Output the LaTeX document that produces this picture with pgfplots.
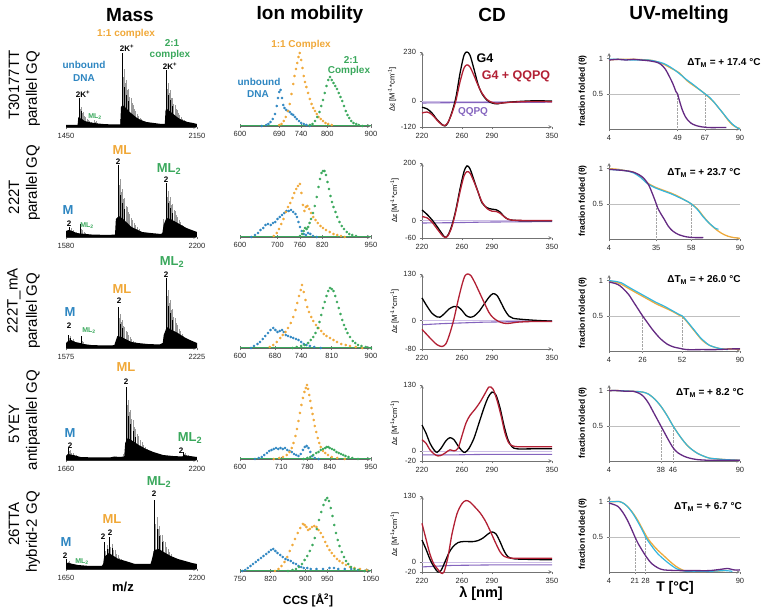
\documentclass[border=0pt]{standalone}
\usepackage{fontspec}
\setmainfont{Liberation Sans}
\usepackage{pgfplots}
\pgfplotsset{compat=1.18}

\definecolor{cblue}{RGB}{46,134,193}
\definecolor{corange}{RGB}{240,168,56}
\definecolor{cgreen}{RGB}{58,168,92}
\definecolor{cdred}{RGB}{178,32,52}
\definecolor{cdpurple}{RGB}{132,100,190}
\definecolor{cdzero}{RGB}{205,190,230}
\definecolor{uvpurple}{RGB}{100,42,130}
\definecolor{uvcyan}{RGB}{52,182,222}
\definecolor{uvorange}{RGB}{238,170,60}

\newcommand{\fs}[1]{\fontsize{#1}{#1}\selectfont}

\pgfplotsset{
  every axis/.append style={
    scale only axis,
    /pgf/number format/assume math mode=true,
    /pgf/number format/1000 sep={},
    tick label style={font=\fs{7.5}, text=black!85},
    axis line style={-, black!55, line width=0.6pt},
    tick style={black!55, line width=0.5pt},
    major tick length=2.5pt,
    clip=false,
  },
  mass/.style={width=131pt, height=80pt, ymin=0, ymax=80,
    axis x line=bottom, axis y line=none, xtick align=outside,
    x axis line style={black!80}},
  stick/.style={ycomb, black!40, line width=0.3pt, mark=none},
  stickk/.style={ycomb, black, line width=0.35pt, mark=none},
  env/.style={fill=black, draw=none, mark=none},
  im/.style={width=131pt, height=80pt, ymin=0, ymax=80,
    axis x line=bottom, axis y line=none, xtick align=center,
    major tick length=4pt, x axis line style={black!60, line width=0.8pt}},
  imb/.style={only marks, mark=*, mark size=1.1pt, color=cblue},
  imo/.style={only marks, mark=*, mark size=1.1pt, color=corange},
  img/.style={only marks, mark=*, mark size=1.1pt, color=cgreen},
  cd/.style={width=130pt, height=75pt, xmin=220, xmax=350,
    axis lines=left, xtick={220,260,290,350}, tick align=outside,
    ylabel={\fs{7.5}Δε [M\textsuperscript{-1}*cm\textsuperscript{-1}]},
    ylabel style={yshift=-2pt}},
  cdk/.style={black, line width=1.3pt, smooth, mark=none},
  cdr/.style={cdred, line width=1.3pt, smooth, mark=none},
  cdp/.style={cdpurple, line width=1.1pt, mark=none},
  uv/.style={width=131pt, height=76pt, xmin=4, xmax=90, ymin=0, ymax=1.08,
    axis lines=left, ytick={0.5,1}, tick align=outside,
    ylabel={\bfseries\fs{8.5}fraction folded (θ)},
    ylabel style={yshift=-1pt}},
  uvp/.style={uvpurple, line width=1.3pt, smooth, mark=none},
  uvo/.style={uvorange, line width=1.3pt, smooth, mark=none},
  uvc/.style={uvcyan, line width=1.2pt, smooth, mark=none},
}

\begin{document}
\begin{tikzpicture}[x=1pt, y=-1pt]
\useasboundingbox (0,0) rectangle (764,609);

% column titles
\node[font=\bfseries\fs{19}] at (130,15) {Mass};
\node[font=\bfseries\fs{19}] at (310,15) {Ion mobility};
\node[font=\bfseries\fs{19}] at (492,15) {CD};
\node[font=\bfseries\fs{19}] at (679,15) {UV-melting};

% row names
\begin{scope}[every node/.style={rotate=90, font=\fs{15}}]
\node at (14,85) {T30177TT};
\node at (33,89) {parallel GQ};
\node at (14,197) {222T};
\node at (33,183) {parallel GQ};
\node at (14,301) {222T\_mA};
\node at (33,311) {parallel GQ};
\node at (14,424) {5YEY};
\node at (33,420) {antiparallel GQ};
\node at (14,524) {26TTA};
\node at (33,532) {hybrid-2 GQ};
\end{scope}

%================ MASS ================
\begin{axis}[mass, at={(66pt,-127pt)}, anchor=south west, xmin=1450, xmax=2150, xtick={1450,2150}]
\addplot[stick] coordinates {(1519,29)(1525,18)(1531,20)(1537,14)(1543,15)(1549,11)(1555,10)(1562,8)(1569,7)(1576,6)(1584,5)(1592,4)
 (1600,7)(1606,5)(1612,6)(1618,4)(1625,3)
 (1740,8)(1749,74)(1754,50)(1760,58)(1766,44)(1772,47)(1778,37)(1784,38)(1790,30)(1796,29)(1802,24)(1808,22)(1815,18)(1822,16)(1829,13)(1836,11)(1844,9)(1852,8)(1860,6)(1870,5)(1880,4)(1892,3)
 (1984,57)(1989,38)(1995,44)(2001,34)(2007,37)(2013,29)(2019,29)(2025,23)(2031,22)(2037,18)(2043,17)(2050,14)(2057,12)(2064,10)(2071,8)(2079,7)(2087,5)(2096,4)(2106,3)(2118,3)};
\addplot[env] coordinates {(1450,0)(1450,2)(1512,2)(1516,10)(1522,9)(1535,8)(1550,6)(1570,5)(1600,4)(1620,3.5)(1650,3)(1700,2.5)(1740,2.5)(1744,20)(1752,22)(1770,19)(1790,15)(1810,12)(1830,9)(1850,7)(1880,5)(1920,4)(1960,3)(1978,3)(1982,17)(1990,18)(2010,15)(2030,12)(2050,9)(2070,7)(2100,5)(2130,4)(2150,3)(2150,0)};
\addplot[stickk] coordinates {(1519,29)(1531,16)(1749,74)(1760,40)(1772,32)(1784,26)(1984,57)(1995,32)(2007,27)(2019,21)};
\end{axis}

\begin{axis}[mass, at={(66pt,-237pt)}, anchor=south west, xmin=1580, xmax=2200, xtick={1580,2200}]
\addplot[stick] coordinates {(1594,10)(1599,7)(1604,9)(1609,6)(1614,7)(1620,5)(1626,5)(1632,4)(1640,3)
 (1648,13)(1653,8)(1658,7)(1664,5)(1670,4)
 (1815,10)(1826,72)(1831,52)(1836,58)(1841,45)(1846,48)(1852,38)(1857,39)(1863,31)(1869,30)(1875,25)(1881,23)(1887,19)(1894,17)(1901,14)(1908,12)(1916,10)(1924,8)(1932,6)(1942,5)(1952,4)(1965,3)
 (2040,18)(2053,54)(2058,40)(2063,46)(2068,36)(2073,40)(2079,32)(2084,33)(2090,27)(2096,26)(2102,22)(2108,20)(2115,17)(2122,15)(2129,12)(2136,11)(2144,9)(2152,8)(2160,6)(2170,5)(2180,4)(2192,3)};
\addplot[env] coordinates {(1580,0)(1580,6)(1592,7)(1610,6)(1630,4)(1650,3.5)(1700,2.5)(1780,2)(1812,2.5)(1816,18)(1830,21)(1850,18)(1870,14)(1890,10)(1910,8)(1940,5)(1980,4)(2030,3)(2036,4)(2042,12)(2055,19)(2075,18)(2100,15)(2125,12)(2150,9)(2175,7)(2200,5)(2200,0)};
\addplot[stickk] coordinates {(1594,10)(1648,13)(1826,72)(1836,42)(1846,34)(1857,28)(2053,54)(2063,34)(2073,29)(2084,24)};
\end{axis}

\begin{axis}[mass, at={(66pt,-348pt)}, anchor=south west, xmin=1575, xmax=2225, xtick={1575,2225}]
\addplot[stick] coordinates {(1588,13)(1593,10)(1598,12)(1603,8)(1608,9)(1614,7)(1620,6)(1627,5)(1635,4)(1643,3)
 (1652,12)(1657,7)(1662,6)(1668,4)
 (1820,6)(1833,41)(1838,30)(1843,34)(1849,26)(1854,28)(1860,22)(1866,21)(1872,17)(1878,16)(1885,13)(1892,11)(1900,9)(1908,7)(1917,6)(1927,4)(1938,3)
 (2060,12)(2071,70)(2076,52)(2081,58)(2086,45)(2091,48)(2097,38)(2103,39)(2109,31)(2115,30)(2121,25)(2128,23)(2135,19)(2142,17)(2150,14)(2158,12)(2166,10)(2175,8)(2184,6)(2195,5)(2207,4)(2220,3)};
\addplot[env] coordinates {(1575,0)(1575,5)(1586,7)(1600,8)(1620,6)(1645,5)(1660,4)(1700,3)(1760,2.5)(1800,2.5)(1815,3)(1820,6)(1830,12)(1850,11)(1870,9)(1900,6)(1930,5)(1980,4)(2040,3.5)(2055,5)(2060,13)(2075,21)(2100,18)(2130,15)(2160,11)(2190,8)(2225,5)(2225,0)};
\addplot[stickk] coordinates {(1588,13)(1598,10)(1652,12)(1833,41)(1843,24)(1854,20)(2071,70)(2081,42)(2091,35)(2103,28)};
\end{axis}

\begin{axis}[mass, at={(66pt,-460pt)}, anchor=south west, xmin=1660, xmax=2200, xtick={1660,2200}]
\addplot[stick] coordinates {(1668,12)(1673,9)(1678,10)(1683,7)(1689,7)(1695,5)(1701,5)(1708,4)(1716,3)
 (1895,6)(1907,73)(1911,55)(1915,60)(1920,48)(1925,50)(1930,41)(1935,40)(1941,33)(1947,31)(1953,26)(1959,24)(1966,20)(1973,18)(1980,15)(1988,13)(1996,11)(2005,9)(2015,7)(2026,6)(2038,5)(2052,4)(2068,3)
 (2142,8)(2147,6)(2152,7)(2157,5)(2163,5)(2170,4)(2178,3)};
\addplot[env] coordinates {(1660,0)(1660,4)(1668,6)(1690,5)(1720,3)(1780,2.5)(1840,2.5)(1860,3.5)(1880,3)(1900,3.5)(1904,17)(1915,22)(1935,19)(1960,15)(1990,11)(2020,8)(2060,5)(2100,4)(2140,3.5)(2145,5)(2170,4)(2200,3)(2200,0)};
\addplot[stickk] coordinates {(1668,12)(1907,73)(1915,44)(1925,36)(1935,29)(1947,23)(2142,8)};
\end{axis}

\begin{axis}[mass, at={(66pt,-569pt)}, anchor=south west, xmin=1650, xmax=2200, xtick={1650,2200}]
\addplot[stick] coordinates {(1652,10)(1657,7)(1662,8)(1667,6)(1673,5)(1679,4)(1686,4)(1694,3)
 (1700,4)(1706,3)
 (1810,27)(1815,18)(1821,24)(1826,20)(1832,32)(1837,22)(1843,25)(1849,19)(1855,19)(1861,15)(1868,14)(1875,11)(1882,10)(1890,8)(1898,7)(1907,5)(1917,4)(1928,3)
 (2014,18)(2021,69)(2026,45)(2031,52)(2036,40)(2041,43)(2047,34)(2053,34)(2059,28)(2065,27)(2071,22)(2078,20)(2085,17)(2092,15)(2100,12)(2108,11)(2117,9)(2126,8)(2136,6)(2147,5)(2160,4)(2175,3)(2190,3)};
\addplot[env] coordinates {(1650,0)(1650,6)(1660,6)(1680,5)(1700,4)(1750,3)(1800,3)(1806,5)(1810,12)(1830,16)(1850,13)(1870,10)(1900,8)(1940,5)(1980,5)(2005,5)(2010,9)(2020,19)(2040,20)(2060,17)(2090,13)(2120,10)(2150,8)(2180,6)(2200,5)(2200,0)};
\addplot[stickk] coordinates {(1652,10)(1810,27)(1821,20)(1832,32)(1843,21)(2021,69)(2031,40)(2041,33)(2053,27)};
\end{axis}

% mass annotations
\begin{scope}[every node/.style={font=\bfseries\fs{10}, inner sep=0pt}]
\node[cblue] at (84,65) {unbound};
\node[cblue] at (84,78) {DNA};
\node[black, font=\bfseries\fs{8}] at (83,94) {2K\textsuperscript{+}};
\node[cgreen, font=\bfseries\fs{7}] at (95,117) {ML\textsubscript{2}};
\node[corange] at (126,34) {1:1 complex};
\node[black, font=\bfseries\fs{8}] at (127,48) {2K\textsuperscript{+}};
\node[cgreen] at (172,43) {2:1};
\node[cgreen] at (170,55) {complex};
\node[black, font=\bfseries\fs{8}] at (170,66) {2K\textsuperscript{+}};
% 222T
\node[cblue, font=\bfseries\fs{13}] at (68,210) {M};
\node[font=\bfseries\fs{8}] at (69,224) {2};
\node[cgreen, font=\bfseries\fs{7}] at (87,226) {ML\textsubscript{2}};
\node[corange, font=\bfseries\fs{13}] at (122,150) {ML};
\node[font=\bfseries\fs{8}] at (118,162) {2};
\node[cgreen, font=\bfseries\fs{13}] at (169,169) {ML\textsubscript{2}};
\node[font=\bfseries\fs{8}] at (166,180) {2};
% 222T_mA
\node[cblue, font=\bfseries\fs{13}] at (70,312) {M};
\node[font=\bfseries\fs{8}] at (69,326) {2};
\node[cgreen, font=\bfseries\fs{7}] at (89,331) {ML\textsubscript{2}};
\node[corange, font=\bfseries\fs{13}] at (122,289) {ML};
\node[font=\bfseries\fs{8}] at (119,301) {2};
\node[cgreen, font=\bfseries\fs{13}] at (172,262) {ML\textsubscript{2}};
\node[font=\bfseries\fs{8}] at (166,275) {2};
% 5YEY
\node[corange, font=\bfseries\fs{13}] at (126,367) {ML};
\node[font=\bfseries\fs{8}] at (126,382) {2};
\node[cblue, font=\bfseries\fs{13}] at (70,433) {M};
\node[font=\bfseries\fs{8}] at (70,446) {2};
\node[cgreen, font=\bfseries\fs{13}] at (190,438) {ML\textsubscript{2}};
\node[font=\bfseries\fs{8}] at (181,451) {2};
% 26TTA
\node[cgreen, font=\bfseries\fs{13}] at (159,482) {ML\textsubscript{2}};
\node[font=\bfseries\fs{8}] at (154,494) {2};
\node[corange, font=\bfseries\fs{13}] at (112,519) {ML};
\node[font=\bfseries\fs{8}] at (103,537) {2};
\node[font=\bfseries\fs{8}] at (110,533) {2};
\node[cblue, font=\bfseries\fs{13}] at (66,542) {M};
\node[font=\bfseries\fs{8}] at (65,556) {2};
\node[cgreen, font=\bfseries\fs{7}] at (82,562) {ML\textsubscript{2}};
\end{scope}
\node[font=\bfseries\fs{13}] at (123,587) {m/z};

%================ ION MOBILITY ================
\begin{axis}[im, at={(240pt,-126pt)}, anchor=south west, xmin=600, xmax=900, xtick={600,690,740,800,900}]
\addplot[imb] coordinates {(650,0)(660,1)(665,2)(670,4)(675,7)(680,12)(684,20)(687,28)(690,34)(693,36)(696,28)(699,21)(702,18)(706,16)(710,15)(714,14)(718,12)(722,11)(726,9)(730,7)(735,5)(740,3)(746,2)(752,1)(760,0)};
\addplot[imo] coordinates {(690,1)(695,2)(700,5)(705,9)(710,15)(714,22)(718,32)(722,42)(725,50)(728,57)(731,63)(734,69)(737,73)(740,66)(743,58)(746,50)(749,44)(752,39)(756,33)(760,27)(764,22)(768,18)(772,15)(776,12)(780,9)(785,7)(790,5)(796,3)(802,2)(810,1)};
\addplot[img] coordinates {(760,1)(766,2)(772,5)(777,9)(782,14)(786,20)(790,26)(794,33)(798,40)(802,46)(806,49)(810,46)(814,43)(818,40)(822,37)(826,33)(830,29)(834,25)(838,20)(842,15)(846,11)(850,8)(855,5)(860,3)(866,2)(872,1)(880,0)};
\addplot[cgreen, line width=1pt, mark=none] coordinates {(600,0)(900,0)};
\end{axis}

\begin{axis}[im, at={(240pt,-237pt)}, anchor=south west, xmin=600, xmax=950, xtick={600,700,760,820,950}]
\addplot[imb] coordinates {(630,0)(640,2)(648,4)(655,7)(662,9)(668,12)(675,13)(682,12)(688,14)(694,15)(700,18)(706,20)(712,22)(718,24)(724,26)(730,26)(736,27)(742,25)(748,23)(752,20)(756,15)(760,10)(765,6)(770,3)(776,2)(782,4)(788,3)(795,1)(805,0)};
\addplot[imo] coordinates {(690,1)(698,4)(704,8)(710,13)(716,18)(722,25)(728,30)(734,34)(740,39)(745,44)(750,48)(755,51)(760,53)(764,44)(768,32)(772,26)(776,30)(780,31)(785,28)(790,24)(796,20)(802,17)(808,14)(815,11)(822,9)(830,7)(840,5)(850,3)(860,2)(870,1)(880,0)};
\addplot[img] coordinates {(760,1)(766,3)(770,6)(774,9)(778,8)(782,10)(786,14)(790,18)(795,24)(800,31)(805,40)(810,50)(814,58)(818,64)(822,66)(826,66)(830,62)(834,55)(838,48)(842,41)(846,35)(850,30)(855,25)(860,20)(866,15)(872,11)(878,8)(885,5)(892,3)(900,2)(910,1)};
\addplot[cgreen, line width=1pt, mark=none] coordinates {(600,0)(950,0)};
\end{axis}

\begin{axis}[im, at={(240pt,-348pt)}, anchor=south west, xmin=600, xmax=900, xtick={600,680,740,810,900}]
\addplot[imb] coordinates {(625,0)(632,2)(640,4)(646,6)(652,9)(658,12)(664,15)(670,18)(676,20)(681,18)(686,16)(691,17)(696,18)(700,16)(705,13)(710,12)(716,11)(722,10)(728,9)(734,8)(740,6)(746,4)(752,3)(760,2)(770,1)(785,0)};
\addplot[imo] coordinates {(668,1)(676,3)(684,6)(692,10)(698,13)(704,16)(710,20)(716,25)(722,31)(727,38)(731,45)(735,52)(739,58)(742,63)(746,56)(750,48)(754,41)(758,36)(763,31)(768,27)(774,23)(780,20)(786,17)(792,14)(798,12)(806,10)(814,8)(822,6)(832,4)(842,3)(852,2)(865,1)(880,0)};
\addplot[img] coordinates {(720,0)(730,1)(740,2)(748,3)(756,5)(762,8)(768,11)(773,15)(778,20)(782,26)(786,33)(790,40)(794,46)(798,52)(802,57)(806,60)(810,59)(814,57)(818,52)(822,46)(826,40)(830,34)(834,28)(838,23)(842,19)(846,15)(852,11)(858,7)(864,5)(870,3)(878,2)(888,1)(900,0)};
\addplot[cgreen, line width=1pt, mark=none] coordinates {(600,0)(900,0)};
\end{axis}

\begin{axis}[im, at={(240pt,-459pt)}, anchor=south west, xmin=600, xmax=950, xtick={600,710,780,840,950}]
\addplot[imb] coordinates {(640,0)(650,1)(658,2)(665,4)(672,6)(678,8)(684,9)(690,10)(696,11)(702,10)(708,11)(714,10)(720,11)(726,9)(732,8)(738,7)(744,5)(750,4)(756,3)(762,5)(768,9)(773,12)(778,13)(783,11)(788,7)(793,3)(800,1)(810,0)};
\addplot[imo] coordinates {(690,0)(705,1)(715,2)(725,4)(732,7)(738,11)(743,16)(748,23)(752,30)(756,38)(760,46)(764,54)(768,61)(772,67)(776,71)(779,74)(782,70)(785,64)(788,58)(791,51)(794,45)(797,39)(800,33)(804,27)(808,21)(812,16)(816,12)(822,8)(828,6)(835,4)(845,2)(860,1)(880,0)};
\addplot[img] coordinates {(770,0)(780,1)(788,2)(796,4)(804,6)(810,7)(816,9)(822,10)(828,11)(832,12)(836,12)(840,11)(846,10)(852,9)(858,7)(864,6)(870,5)(876,4)(882,3)(890,2)(900,1)(915,0)};
\addplot[cgreen, line width=1pt, mark=none] coordinates {(600,0)(950,0)};
\end{axis}

\begin{axis}[im, at={(240pt,-571pt)}, anchor=south west, xmin=750, xmax=1050, xtick={750,820,900,950,1050}]
\addplot[imb] coordinates {(755,0)(762,1)(768,3)(774,5)(780,7)(786,9)(792,11)(798,13)(804,15)(810,17)(816,19)(821,21)(826,22)(831,20)(836,18)(842,16)(848,14)(854,12)(860,11)(866,10)(872,8)(878,7)(884,5)(890,4)(896,3)(904,3)(912,2)(925,2)(940,2)(955,3)(965,3)(975,2)(990,2)(1005,2)(1020,1)(1040,1)};
\addplot[imo] coordinates {(830,0)(838,2)(845,5)(852,9)(858,14)(864,20)(870,26)(876,32)(882,38)(888,43)(894,47)(898,46)(902,44)(906,41)(910,42)(915,44)(920,45)(925,44)(930,41)(935,38)(940,34)(945,29)(950,25)(955,21)(960,18)(966,15)(972,12)(978,10)(985,8)(993,6)(1002,4)(1012,3)(1025,2)(1040,1)};
\addplot[img] coordinates {(860,0)(870,1)(878,2)(885,4)(892,7)(898,11)(904,15)(910,20)(916,26)(921,33)(926,42)(931,51)(936,59)(941,66)(946,71)(950,73)(954,70)(958,63)(962,55)(966,46)(970,38)(974,31)(978,25)(983,19)(988,14)(993,10)(998,7)(1004,4)(1012,2)(1022,1)(1035,0)};
\addplot[cgreen, line width=1pt, mark=none] coordinates {(750,0)(1050,0)};
\end{axis}

\begin{scope}[every node/.style={font=\bfseries\fs{10}, inner sep=0pt}]
\node[corange] at (301,45) {1:1 Complex};
\node[cgreen] at (351,60) {2:1};
\node[cgreen] at (349,71) {Complex};
\node[cblue] at (259,82) {unbound};
\node[cblue] at (258,94) {DNA};
\end{scope}
\node[font=\bfseries\fs{12}] at (308,600) {CCS [Å\textsuperscript{2}]};

%================ CD ================
\begin{axis}[cd, at={(422pt,-127pt)}, anchor=south west, ymin=-120, ymax=230, ytick={-120,0,230}]
\addplot[cdzero, line width=0.6pt, mark=none] coordinates {(220,0)(350,0)};
\addplot[cdp] coordinates {(220,-8)(240,-7)(260,-6)(280,-6)(300,-5)(325,-5)(350,-4)};
\addplot[cdk] coordinates {(220,-28)(225,-35)(230,-55)(235,-85)(240,-108)(243,-115)(246,-100)(250,-50)(254,20)(258,130)(262,215)(265,230)(268,215)(272,150)(276,80)(280,35)(285,5)(290,-8)(295,-12)(300,-8)(310,-3)(320,0)(330,2)(340,2)(350,1)};
\addplot[cdr] coordinates {(220,-55)(225,-50)(230,-62)(235,-88)(240,-110)(243,-113)(246,-98)(250,-55)(254,5)(258,90)(262,155)(265,170)(268,160)(272,120)(276,75)(280,38)(285,8)(290,-5)(295,-10)(300,-8)(310,-4)(320,-2)(330,-1)(340,-1)(350,-2)};
\end{axis}
\node[font=\bfseries\fs{12.5}] at (485,58) {G4};
\node[font=\bfseries\fs{12.5}, cdred] at (516,76) {G4 + QQPQ};
\node[font=\bfseries\fs{10}, cdpurple] at (473,112) {QQPQ};

\begin{axis}[cd, at={(422pt,-238pt)}, anchor=south west, ymin=-60, ymax=200, ytick={-60,0,200}]
\addplot[cdzero, line width=0.6pt, mark=none] coordinates {(220,0)(350,0)};
\addplot[cdp] coordinates {(220,-8)(250,-7)(280,-5)(310,-4)(350,-3)};
\addplot[cdk] coordinates {(220,37)(225,22)(230,3)(235,-20)(240,-45)(243,-57)(246,-50)(250,-15)(254,40)(258,110)(262,170)(265,190)(268,180)(272,140)(276,100)(280,62)(285,45)(290,40)(294,38)(298,30)(302,15)(306,5)(310,2)(320,0)(335,0)(350,0)};
\addplot[cdr] coordinates {(220,14)(225,10)(230,-5)(235,-28)(240,-50)(243,-58)(246,-52)(250,-20)(254,35)(258,100)(262,155)(265,170)(268,165)(272,135)(276,100)(280,65)(285,42)(290,33)(294,32)(298,26)(302,14)(306,5)(310,2)(320,1)(335,1)(350,1)};
\end{axis}

\begin{axis}[cd, at={(422pt,-349pt)}, anchor=south west, ymin=-80, ymax=130, ytick={-80,0,130}]
\addplot[cdzero, line width=0.6pt, mark=none] coordinates {(220,0)(350,0)};
\addplot[cdp] coordinates {(220,-12)(240,-9)(260,-7)(280,-5)(300,-4)(325,-3)(350,-2)};
\addplot[cdk] coordinates {(220,63)(225,40)(230,20)(235,10)(238,9)(242,18)(247,32)(252,39)(256,38)(260,28)(264,14)(268,9)(272,12)(277,25)(282,45)(287,65)(291,75)(295,70)(299,50)(303,28)(307,12)(311,6)(320,3)(335,0)(350,-2)};
\addplot[cdr] coordinates {(220,-25)(225,-40)(230,-55)(235,-68)(240,-73)(244,-65)(248,-35)(252,5)(256,55)(260,100)(263,125)(266,130)(269,125)(273,105)(278,75)(283,45)(287,22)(291,8)(296,-2)(302,-8)(308,-8)(315,-5)(330,-3)(350,-3)};
\end{axis}

\begin{axis}[cd, at={(422pt,-461pt)}, anchor=south west, height=76pt, ymin=-20, ymax=130, ytick={-20,0,130}]
\addplot[cdzero, line width=0.6pt, mark=none] coordinates {(220,0)(350,0)};
\addplot[cdp] coordinates {(220,-8)(250,-8)(280,-7)(310,-7)(350,-7)};
\addplot[cdk] coordinates {(220,51)(224,35)(228,15)(232,2)(235,-3)(239,5)(244,20)(248,26)(252,22)(256,10)(260,0)(263,-3)(267,5)(272,25)(277,55)(282,85)(286,105)(290,116)(294,110)(298,85)(302,50)(306,22)(310,8)(315,4)(330,4)(350,4)};
\addplot[cdr] coordinates {(220,22)(224,15)(228,2)(232,-6)(236,-10)(240,-8)(244,-3)(248,2)(252,0)(256,5)(260,30)(264,55)(268,70)(273,82)(278,96)(283,113)(287,126)(291,122)(295,100)(299,70)(303,35)(307,15)(312,9)(320,8)(335,8)(350,8)};
\end{axis}

\begin{axis}[cd, at={(422pt,-572pt)}, anchor=south west, height=76pt, ymin=-20, ymax=130, ytick={-20,0,130}]
\addplot[cdzero, line width=0.6pt, mark=none] coordinates {(220,0)(350,0)};
\addplot[cdp] coordinates {(220,-10)(250,-7)(290,-6)(320,-6)(350,-6)};
\addplot[cdk] coordinates {(220,43)(224,25)(228,5)(232,-10)(236,-20)(239,-17)(243,0)(247,18)(251,30)(256,38)(261,40)(266,40)(271,40)(276,42)(281,47)(286,55)(290,59)(294,55)(298,40)(302,22)(306,10)(312,6)(325,5)(350,4)};
\addplot[cdr] coordinates {(220,76)(224,45)(228,15)(232,-5)(236,-15)(239,-22)(242,-20)(246,10)(250,55)(255,95)(260,115)(264,121)(268,118)(273,108)(278,97)(283,82)(288,62)(293,40)(298,20)(302,11)(306,8)(315,7)(330,7)(350,7)};
\end{axis}
\node[font=\bfseries\fs{14.5}] at (481,594) {λ [nm]};

%================ UV MELTING ================
\begin{axis}[uv, at={(609pt,-129pt)}, anchor=south west, xtick={4,49,67,90}]
\addplot[black!25, line width=0.5pt, mark=none] coordinates {(4,0.5)(90,0.5)};
\addplot[black!35, densely dotted, mark=none] coordinates {(49,0)(49,0.5)};
\addplot[black!35, densely dotted, mark=none] coordinates {(67,0)(67,0.5)};
\addplot[uvo] coordinates {(4,0.98)(10,0.99)(20,0.99)(30,0.98)(35,0.96)(40,0.92)(45,0.86)(50,0.8)(55,0.69)(60,0.61)(64,0.55)(67,0.5)(70,0.44)(73,0.38)(76,0.3)(79,0.22)(82,0.13)(85,0.06)(88,0.02)(90,0.01)};
\addplot[uvc] coordinates {(4,0.99)(10,0.99)(20,0.98)(30,0.98)(35,0.96)(40,0.93)(45,0.87)(50,0.79)(55,0.7)(60,0.62)(64,0.55)(67,0.5)(70,0.45)(73,0.38)(76,0.3)(79,0.22)(82,0.14)(85,0.07)(88,0.02)(90,0.0)};
\addplot[uvp] coordinates {(4,0.98)(10,0.99)(15,0.98)(20,0.99)(25,0.98)(30,0.97)(35,0.95)(38,0.92)(41,0.85)(44,0.73)(46,0.64)(48,0.53)(49,0.5)(50,0.42)(52,0.28)(54,0.18)(56,0.12)(58,0.08)(61,0.05)(65,0.03)(70,0.02)(75,0.02)(81,0.02)};
\end{axis}
\node[font=\bfseries\fs{10}] at (724,63) {ΔT\textsubscript{M} = + 17.4 °C};

\begin{axis}[uv, at={(609pt,-239pt)}, anchor=south west, xtick={4,35,58,90}]
\addplot[black!25, line width=0.5pt, mark=none] coordinates {(4,0.5)(90,0.5)};
\addplot[black!35, densely dotted, mark=none] coordinates {(35,0)(35,0.5)};
\addplot[black!35, densely dotted, mark=none] coordinates {(58,0)(58,0.5)};
\addplot[uvo] coordinates {(4,1.0)(10,0.99)(15,0.97)(20,0.95)(25,0.88)(29,0.8)(34,0.74)(40,0.69)(45,0.65)(50,0.6)(54,0.55)(58,0.5)(62,0.43)(66,0.32)(70,0.22)(74,0.14)(78,0.08)(82,0.04)(86,0.02)(90,0.01)};
\addplot[uvc] coordinates {(4,0.99)(10,0.98)(15,0.97)(20,0.94)(25,0.87)(29,0.79)(34,0.73)(40,0.68)(45,0.64)(50,0.59)(54,0.55)(58,0.5)(62,0.42)(66,0.31)(70,0.22)(74,0.15)(76,0.14)};
\addplot[uvp] coordinates {(4,0.99)(10,0.98)(15,0.97)(20,0.95)(24,0.91)(27,0.86)(30,0.77)(32,0.67)(34,0.56)(35,0.5)(36,0.44)(38,0.36)(40,0.29)(43,0.18)(46,0.11)(50,0.06)(55,0.03)(60,0.02)(66,0.02)};
\end{axis}
\node[font=\bfseries\fs{10}] at (704,173) {ΔT\textsubscript{M} = + 23.7 °C};

\begin{axis}[uv, at={(609pt,-351pt)}, anchor=south west, xtick={4,26,52,90}]
\addplot[black!25, line width=0.5pt, mark=none] coordinates {(4,0.5)(90,0.5)};
\addplot[black!35, densely dotted, mark=none] coordinates {(26,0)(26,0.5)};
\addplot[black!35, densely dotted, mark=none] coordinates {(52,0)(52,0.5)};
\addplot[uvo] coordinates {(4,0.99)(8,0.98)(12,0.95)(16,0.9)(20,0.85)(25,0.79)(30,0.73)(35,0.67)(40,0.62)(45,0.57)(50,0.51)(52,0.49)(55,0.42)(58,0.34)(61,0.26)(64,0.18)(67,0.12)(70,0.08)(74,0.05)(78,0.03)(85,0.03)(90,0.02)};
\addplot[uvc] coordinates {(4,1.0)(8,0.99)(12,0.97)(16,0.92)(20,0.87)(25,0.81)(30,0.75)(35,0.69)(40,0.64)(45,0.58)(50,0.52)(52,0.5)(55,0.43)(58,0.35)(61,0.27)(64,0.19)(67,0.13)(70,0.08)(74,0.05)(78,0.03)(82,0.02)};
\addplot[uvp] coordinates {(4,0.98)(8,0.96)(11,0.93)(14,0.87)(17,0.8)(20,0.7)(23,0.6)(26,0.5)(29,0.41)(32,0.32)(35,0.24)(38,0.17)(42,0.1)(46,0.06)(50,0.04)(55,0.02)(65,0.02)(75,0.02)(85,0.03)(90,0.03)};
\end{axis}
\node[font=\bfseries\fs{10}] at (704,280) {ΔT\textsubscript{M} = + 26.0 °C};

\begin{axis}[uv, at={(609pt,-461pt)}, anchor=south west, xtick={4,38,46,90}]
\addplot[black!25, line width=0.5pt, mark=none] coordinates {(4,0.5)(90,0.5)};
\addplot[black!35, densely dotted, mark=none] coordinates {(38,0)(38,0.5)};
\addplot[black!35, densely dotted, mark=none] coordinates {(46,0)(46,0.5)};
\addplot[uvo] coordinates {(4,1.0)(10,1.0)(20,0.99)(26,0.98)(30,0.95)(34,0.88)(38,0.78)(42,0.65)(46,0.5)(49,0.4)(52,0.31)(55,0.23)(58,0.17)(62,0.11)(66,0.07)(70,0.04)(75,0.03)(80,0.02)(90,0.01)};
\addplot[uvc] coordinates {(4,1.0)(10,1.0)(20,0.99)(26,0.98)(30,0.95)(34,0.88)(38,0.78)(42,0.65)(46,0.5)(49,0.4)(52,0.31)(55,0.23)(58,0.17)(62,0.11)(66,0.07)(70,0.04)(75,0.03)(80,0.02)(90,0.01)};
\addplot[uvp] coordinates {(4,1.0)(10,1.0)(15,0.99)(20,0.99)(24,0.96)(27,0.91)(30,0.82)(33,0.7)(36,0.58)(38,0.5)(40,0.42)(43,0.3)(46,0.19)(49,0.12)(53,0.07)(57,0.04)(62,0.02)(70,0.01)(80,0.01)(90,0.01)};
\end{axis}
\node[font=\bfseries\fs{10}] at (710,393) {ΔT\textsubscript{M} = + 8.2 °C};

\begin{axis}[uv, at={(609pt,-572pt)}, anchor=south west, xtick={4,21,28,90}]
\addplot[black!25, line width=0.5pt, mark=none] coordinates {(4,0.5)(90,0.5)};
\addplot[black!35, densely dotted, mark=none] coordinates {(21,0)(21,0.5)};
\addplot[black!35, densely dotted, mark=none] coordinates {(28,0)(28,0.5)};
\addplot[uvo] coordinates {(4,1.0)(8,1.0)(11,1.0)(14,0.97)(17,0.91)(20,0.83)(23,0.73)(26,0.61)(28,0.53)(30,0.46)(33,0.38)(36,0.31)(40,0.23)(44,0.15)(48,0.08)(52,0.03)(56,0.01)(70,0.01)(80,0.02)};
\addplot[uvc] coordinates {(4,1.0)(8,1.0)(11,1.0)(14,0.97)(17,0.91)(20,0.82)(23,0.71)(26,0.59)(28,0.5)(30,0.43)(33,0.34)(36,0.26)(40,0.18)(44,0.11)(48,0.05)(52,0.02)(56,0.01)(70,0.01)(80,0.02)(85,0.01)};
\addplot[uvp] coordinates {(4,0.98)(7,0.96)(10,0.93)(13,0.85)(16,0.74)(19,0.6)(21,0.5)(23,0.41)(26,0.3)(29,0.2)(32,0.12)(36,0.06)(40,0.03)(50,0.02)(60,0.02)(70,0.02)(78,0.04)(82,0.05)(86,0.03)(90,0.03)};
\end{axis}
\node[font=\bfseries\fs{10}] at (708,507) {ΔT\textsubscript{M} = + 6.7 °C};
\node[font=\bfseries\fs{14}] at (675,588) {T [°C]};

\end{tikzpicture}
\end{document}
